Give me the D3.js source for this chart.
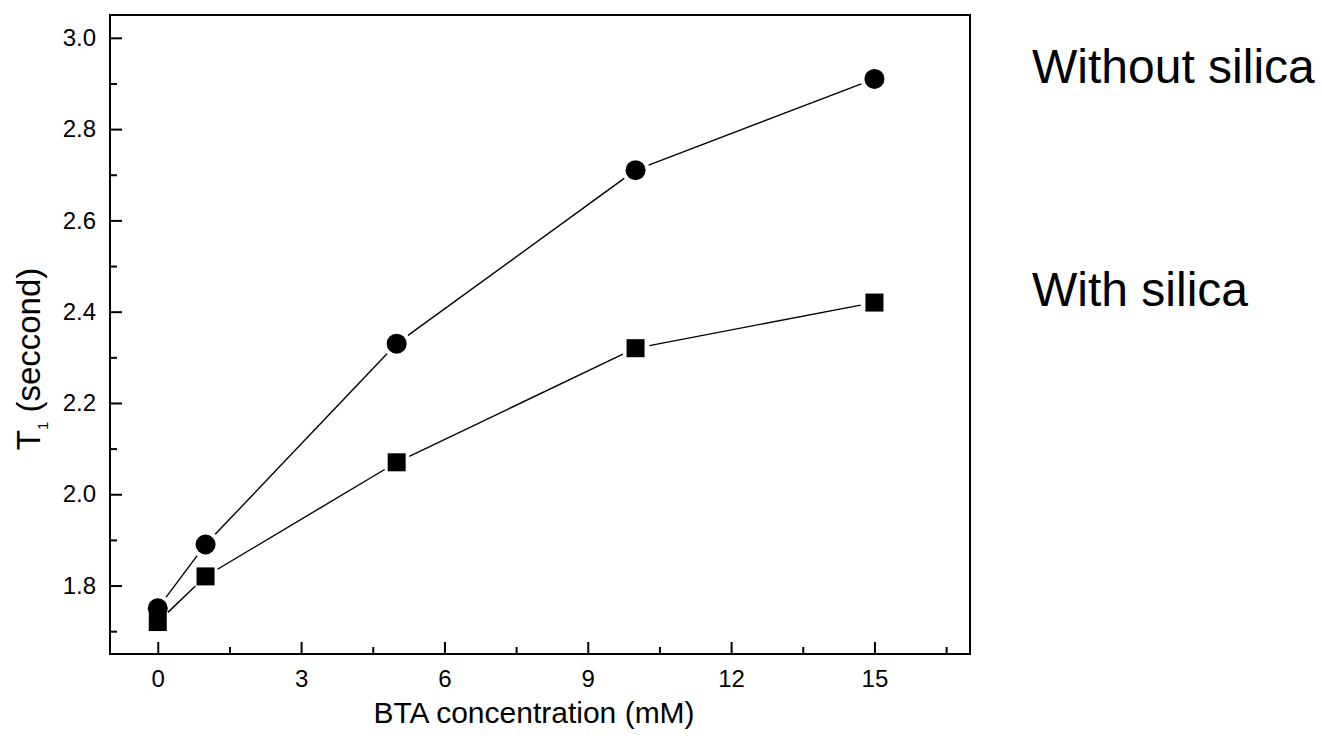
<!DOCTYPE html>
<html>
<head>
<meta charset="utf-8">
<script src="https://cdn.jsdelivr.net/npm/d3@7"></script>
<style>
  body { margin: 0; background: #fff; }
  text { font-family: "Liberation Sans", Arial, sans-serif; fill: #000; }
</style>
</head>
<body>
<div id="chart"></div>
<script>
// datos
var concentration = [0, 1, 5, 10, 15];
var withoutSilica = [1.75, 1.89, 2.33, 2.71, 2.91];
var withSilica = [1.72, 1.82, 2.07, 2.32, 2.42];
var xTicks = [0, 3, 6, 9, 12, 15];
var xMinorTicks = [1.5, 4.5, 7.5, 10.5, 13.5, 16.5];
var yTicks = [1.8, 2.0, 2.2, 2.4, 2.6, 2.8, 3.0];
var yMinorTicks = [1.7, 1.9, 2.1, 2.3, 2.5, 2.7, 2.9];
var seriesNames = ["Without silica", "With silica"];

// dimensions of the svg
var width = 1322,
    height = 741;
var margin = {top: 15, right: 352, bottom: 87, left: 110};
var widthp = width - margin.left - margin.right;
var heightp = height - margin.top - margin.bottom;

var svg = d3.select("#chart")
            .append("svg")
            .attr("width", width)
            .attr("height", height);

var g = svg.append("g")
           .attr("transform", "translate(" + margin.left + "," + margin.top + ")");

var xScale = d3.scaleLinear().domain([-1, 17]).range([0, widthp]);
var yScale = d3.scaleLinear().domain([1.65, 3.05]).range([heightp, 0]);

// build the point lists
var dataCircle = concentration.map(function(c, i) { return {x: c, y: withoutSilica[i]}; });
var dataSquare = concentration.map(function(c, i) { return {x: c, y: withSilica[i]}; });

// lines between markers, with a small gap at each end
function drawSegments(data, gap) {
  for (var i = 0; i < data.length - 1; i++) {
    var x1 = xScale(data[i].x), y1 = yScale(data[i].y);
    var x2 = xScale(data[i + 1].x), y2 = yScale(data[i + 1].y);
    var len = Math.sqrt((x2 - x1) * (x2 - x1) + (y2 - y1) * (y2 - y1));
    var ux = (x2 - x1) / len, uy = (y2 - y1) / len;
    g.append("line")
     .attr("x1", x1 + ux * gap)
     .attr("y1", y1 + uy * gap)
     .attr("x2", x2 - ux * gap)
     .attr("y2", y2 - uy * gap)
     .attr("stroke", "#000")
     .attr("stroke-width", 1.4);
  }
}
drawSegments(dataCircle, 14);
drawSegments(dataSquare, 14);

// markers
g.selectAll(".circ")
 .data(dataCircle)
 .enter()
 .append("circle")
 .attr("cx", function(d) { return xScale(d.x); })
 .attr("cy", function(d) { return yScale(d.y); })
 .attr("r", 10)
 .attr("fill", "#000");

g.selectAll(".sq")
 .data(dataSquare)
 .enter()
 .append("rect")
 .attr("x", function(d) { return xScale(d.x) - 9; })
 .attr("y", function(d) { return yScale(d.y) - 9; })
 .attr("width", 18)
 .attr("height", 18)
 .attr("fill", "#000");

// axes (ticks inside)
g.append("g")
  .attr("transform", "translate(0," + heightp + ")")
  .call(d3.axisBottom(xScale).tickValues(xTicks).tickSize(-12).tickPadding(16).tickFormat(d3.format("d")));
g.append("g")
  .attr("transform", "translate(0," + heightp + ")")
  .call(d3.axisBottom(xScale).tickValues(xMinorTicks).tickSize(-7).tickFormat(""));

g.append("g")
  .call(d3.axisLeft(yScale).tickValues(yTicks).tickSize(-12).tickPadding(14).tickFormat(d3.format(".1f")));
g.append("g")
  .call(d3.axisLeft(yScale).tickValues(yMinorTicks).tickSize(-7).tickFormat(""));

g.selectAll(".domain").remove();
g.selectAll(".tick line").attr("stroke", "#000").attr("stroke-width", 2);
g.selectAll(".tick text")
 .style("font-family", "'Liberation Sans', Arial, sans-serif")
 .style("font-size", "24px")
 .attr("fill", "#000");

// frame
g.append("rect")
 .attr("x", 0)
 .attr("y", 0)
 .attr("width", widthp)
 .attr("height", heightp)
 .attr("fill", "none")
 .attr("stroke", "#000")
 .attr("stroke-width", 2);

// axis labels
svg.append("text")
   .attr("x", 534)
   .attr("y", 723)
   .attr("text-anchor", "middle")
   .style("font-size", "30px")
   .text("BTA concentration (mM)");

var yLabel = svg.append("text")
   .attr("transform", "translate(40,359) rotate(-90)")
   .attr("text-anchor", "middle")
   .style("font-size", "33px");
yLabel.append("tspan").text("T");
yLabel.append("tspan").attr("dy", 8).style("font-size", "15px").text("1");
yLabel.append("tspan").attr("dy", -8).text(" (seccond)");

// series labels
svg.selectAll(".serieslabel")
   .data(seriesNames)
   .enter()
   .append("text")
   .attr("x", 1032)
   .attr("y", function(d, i) { return i === 0 ? 83 : 306; })
   .style("font-size", "48px")
   .text(function(d) { return d; });
</script>
</body>
</html>
